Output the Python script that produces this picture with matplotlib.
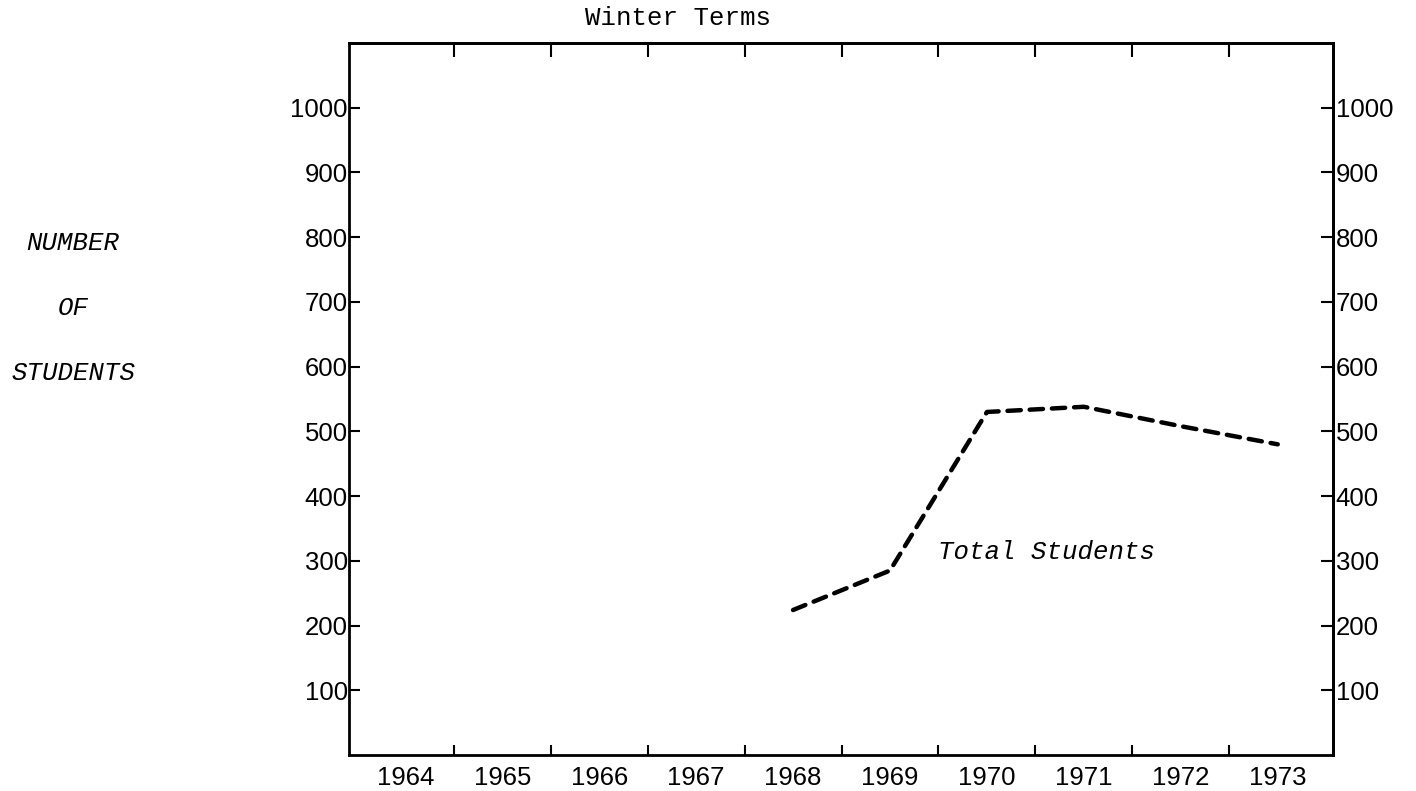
import matplotlib
matplotlib.use("Agg")
import matplotlib.pyplot as plt
from matplotlib.ticker import FixedLocator, NullFormatter, FixedFormatter

# data
years = [1968, 1969, 1970, 1971, 1972, 1973]
total_students = [224, 285, 530, 538, 508, 480]

year_labels = ["1964", "1965", "1966", "1967", "1968", "1969", "1970", "1971", "1972", "1973"]
label_years = [1964, 1965, 1966, 1967, 1968, 1969, 1970, 1971, 1972, 1973]
y_ticks = [100, 200, 300, 400, 500, 600, 700, 800, 900, 1000]

tick_font = "Liberation Sans"
type_font = "Liberation Mono"

fig = plt.figure(figsize=(14.16, 7.91), dpi=100)
ax = fig.add_axes([0.2465, 0.0455, 0.6949, 0.9001])

ax.plot(years, total_students, color="black", lw=3.2, dashes=(3.0, 2.0),
        dash_capstyle="round", solid_joinstyle="round")

ax.set_xlim(1963.42, 1973.57)
ax.set_ylim(0, 1100)

for s in ax.spines.values():
    s.set_linewidth(2.0)

# x: ticks between years, labels centred on years
ax.xaxis.set_major_locator(FixedLocator([y + 0.5 for y in label_years[:-1]]))
ax.xaxis.set_major_formatter(NullFormatter())
ax.xaxis.set_minor_locator(FixedLocator(label_years))
ax.xaxis.set_minor_formatter(FixedFormatter(year_labels))
ax.tick_params(axis="x", which="major", direction="in", length=7.5, width=1.5, bottom=True, top=False)
ax.tick_params(axis="x", which="minor", length=0, pad=8, labelsize=18.5)
for t in ax.xaxis.get_minorticklabels():
    t.set_fontfamily(tick_font)

top = ax.secondary_xaxis("top")
top.xaxis.set_major_locator(FixedLocator([y + 0.5 for y in label_years[:-1]]))
top.xaxis.set_major_formatter(NullFormatter())
top.tick_params(direction="in", length=10, width=1.5)
top.spines["top"].set_linewidth(2.0)

# y: both sides
ax.set_yticks(y_ticks)
ax.set_yticklabels([str(v) for v in y_ticks])
ax.tick_params(axis="y", direction="in", length=8, width=1.5, pad=1, labelsize=18.5)
for t in ax.get_yticklabels():
    t.set_fontfamily(tick_font)

right = ax.secondary_yaxis("right")
right.set_yticks(y_ticks)
right.set_yticklabels([str(v) for v in y_ticks])
right.tick_params(direction="in", length=9, width=1.5, pad=2, labelsize=18.5)
right.spines["right"].set_linewidth(2.0)
for t in right.get_yticklabels():
    t.set_fontfamily(tick_font)

ax.text(1969.5, 313, "Total Students", family=type_font, style="italic",
        fontsize=18.5, ha="left", va="center")

fig.text(0.479, 0.977, "Winter Terms", family=type_font, fontsize=18.5, ha="center", va="center")
fig.text(0.0516, 0.693, "NUMBER", family=type_font, style="italic", fontsize=18.5, ha="center", va="center")
fig.text(0.0516, 0.611, "OF", family=type_font, style="italic", fontsize=18.5, ha="center", va="center")
fig.text(0.0516, 0.528, "STUDENTS", family=type_font, style="italic", fontsize=18.5, ha="center", va="center")

fig.savefig("out.png", dpi=100)
